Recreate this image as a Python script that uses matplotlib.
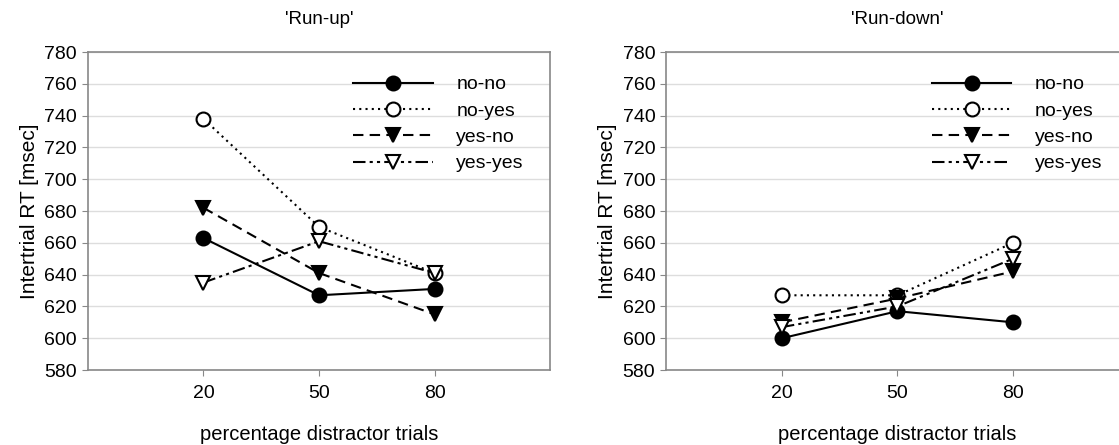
import matplotlib.pyplot as plt

plt.rcParams["font.family"] = ["Liberation Sans", "DejaVu Sans"]

pct_labels = ["20", "50", "80"]
series_names = ["no-no", "no-yes", "yes-no", "yes-yes"]

runup_nono = [663, 627, 631]
runup_noyes = [738, 670, 641]
runup_yesno = [682, 641, 615]
runup_yesyes = [635, 661, 641]

rundown_nono = [600, 617, 610]
rundown_noyes = [627, 627, 660]
rundown_yesno = [610, 625, 642]
rundown_yesyes = [607, 620, 650]

styles = [
    dict(ls="-", marker="o", mfc="black"),
    dict(ls=(0, (1, 2)), marker="o", mfc="white"),
    dict(ls=(0, (5, 3)), marker="v", mfc="black"),
    dict(ls=(0, (6, 2, 1.5, 2, 1.5, 2)), marker="v", mfc="white"),
]


def draw_panel(ax, title, data):
    x = [1, 2, 3]
    for name, vals, st in zip(series_names, data, styles):
        ax.plot(x, vals, color="black", lw=1.5, linestyle=st["ls"],
                marker=st["marker"], mfc=st["mfc"], mec="black",
                mew=1.5, ms=10, label=name)
    ax.set_xlim(0, 4)
    ax.set_ylim(580, 780)
    ax.set_yticks(range(580, 781, 20))
    ax.set_xticks(x, pct_labels)
    ax.grid(axis="y", color="#dddddd", lw=1.0)
    ax.set_axisbelow(True)
    for sp in ax.spines.values():
        sp.set_color("#888888")
        sp.set_linewidth(1.2)
    ax.tick_params(axis="both", labelsize=14, color="#888888", length=4)
    ax.tick_params(axis="x", pad=7)
    ax.tick_params(axis="y", pad=4)
    ax.set_title(title, fontsize=13.5, pad=20)
    ax.set_xlabel("percentage distractor trials", fontsize=14.5, labelpad=16)
    ax.set_ylabel("Intertrial RT [msec]", fontsize=15, labelpad=4)
    ax.legend(loc="upper right", bbox_to_anchor=(0.96, 0.95), frameon=False,
              fontsize=14, handlelength=4.1, handletextpad=1.2,
              labelspacing=0.45, borderaxespad=0)


fig = plt.figure(figsize=(11.19, 4.45), dpi=100)
ax1 = fig.add_axes([0.0786, 0.1685, 0.413, 0.7146])
ax2 = fig.add_axes([0.5955, 0.1685, 0.413, 0.7146])

draw_panel(ax1, "'Run-up'", [runup_nono, runup_noyes, runup_yesno, runup_yesyes])
draw_panel(ax2, "'Run-down'", [rundown_nono, rundown_noyes, rundown_yesno, rundown_yesyes])

fig.savefig("out.png", dpi=100)
